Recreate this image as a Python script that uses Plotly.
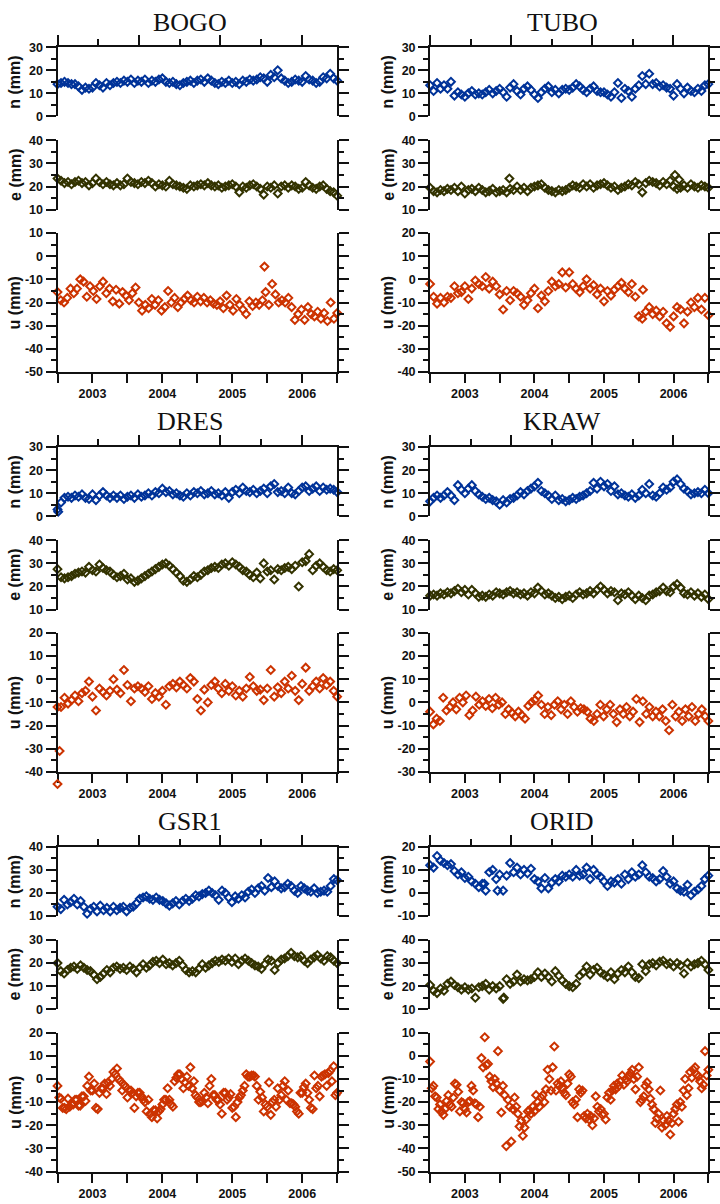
import numpy as np
import plotly.graph_objects as go

# ---------------------------------------------------------------------------
# GPS coordinate time series (mm), 2003.0 - 2007.0, six stations
# Each list is sampled evenly over the time span; *_OUT lists hold (year, mm)
# pairs for isolated points.
# ---------------------------------------------------------------------------
T0, T1 = 2003.0, 2007.0

BOGO_N = [14, 14.5, 15, 14.5, 14, 14, 13, 11.5, 12.5, 12,
          12.5, 14.5, 13.5, 12.5, 14.5, 13.5, 14.5, 15, 14.5, 15.5,
          15, 16, 14.5, 15.5, 15, 16, 14.5, 15.5, 15, 16,
          16.5, 15, 14.5, 15, 14, 13.5, 14.5, 15, 15.5, 14.5,
          15.5, 16, 15, 16.5, 15.5, 14.5, 14, 15, 14.5, 15.5,
          14.5, 15, 14, 15.5, 15, 16, 15.5, 16, 17, 16.5,
          15, 18, 17, 20, 16.5, 15.5, 14.5, 15, 16, 15.5,
          15, 17.5, 16, 15.5, 14.5, 15, 17, 16.5, 18.5, 16.5, 15.5]
BOGO_E = [23.5, 22.5, 21.5, 22, 21, 22, 22.5, 21.5, 22, 20.5,
          21.5, 23.5, 22, 21, 22, 21, 20.5, 21.5, 20.5, 21,
          23.5, 22, 21.5, 21, 22, 21.5, 22.5, 21.5, 20, 21,
          20.5, 20, 22.5, 21, 20.5, 20, 19.5, 19, 20.5, 20,
          20.5, 21, 20.5, 21.5, 20.5, 20, 20.5, 19.5, 20, 20.5,
          21, 20, 17.5, 20, 19.5, 20.5, 21, 20, 19, 16.5,
          20, 19.5, 20.5, 17, 20, 20.5, 19.5, 20.5, 20, 19,
          19.5, 22, 20.5, 19.5, 19, 20, 20.5, 19, 18, 17.5, 16]
BOGO_U = [-15.5, -19, -20, -18, -14, -16, -14, -10, -11, -17.5,
          -13, -15, -18.5, -13, -11, -16, -14, -19.5, -14.5, -20.5,
          -15.5, -17, -19, -16, -13.5, -20, -23.5, -21, -22.5, -18.5,
          -21, -19, -23.5, -22, -15, -20, -18, -22, -20, -18.5,
          -17, -19, -20, -17.5, -19.5, -18, -20, -19, -20.5, -21,
          -19.5, -22.5, -17, -21, -23.5, -18.5, -21, -23, -25, -19.5,
          -21.5, -20, -21, -19, -15.5, -21, -12, -16.5, -20, -19,
          -20, -18, -22, -27.5, -25, -23, -27.5, -22, -25, -26,
          -24, -27, -24.5, -28, -20, -27, -24.5]
BOGO_U_OUT = [(2005.96, -4.5)]

TUBO_N = [13.5, 11, 14.5, 12, 13.5, 12, 15, 9, 10.5, 9.5,
          8.5, 10, 11, 9.5, 10, 9.5, 10.5, 11.5, 10, 11,
          12, 10.5, 8.5, 12.5, 14, 11, 9.5, 12, 13, 11.5,
          9.5, 8, 10.5, 12, 13, 10.5, 11.5, 10, 11.5, 12,
          11.5, 12.5, 14, 13, 11.5, 10.5, 12, 13, 11, 10.5,
          10.5, 9.5, 8.5, 10.5, 14.5, 8, 12, 11, 8.5, 12,
          13.5, 17.5, 14, 18.5, 14, 14.5, 13, 13.5, 12.5, 12,
          9, 14, 12, 10, 12.5, 11, 10.5, 12, 11, 13.5, 14]
TUBO_E = [19.5, 18, 17.5, 18.5, 18, 19, 18.5, 19.5, 18, 20,
          17, 18.5, 19, 18, 19.5, 18.5, 17.5, 18, 19, 17.5,
          18, 18.5, 17.5, 19, 18.5, 20, 18.5, 19.5, 18, 19.5,
          20, 20.5, 21, 19.5, 18.5, 18, 17.5, 18.5, 18, 18.5,
          19.5, 20.5, 20, 19.5, 21, 20, 21, 19.5, 20.5, 21,
          21.5, 20.5, 19.5, 20, 18.5, 19.5, 20, 21, 20.5, 22,
          21, 17.5, 21.5, 22.5, 22, 21.5, 20.5, 22, 21, 22.5,
          20, 19, 19.5, 20.5, 19.5, 21, 20, 19.5, 20.5, 20, 19.5]
TUBO_E_OUT = [(2004.14, 23.5), (2006.52, 25), (2006.58, 23)]
TUBO_U = [-2, -7.5, -10.5, -8, -10, -7.5, -8, -3, -6, -5.5,
          -3, -8.5, -4, -0.5, -2, -3, 1, -4, -1, -3,
          -6.5, -13, -5, -9, -5, -6, -7.5, -11, -9, -6,
          -4, -12.5, -7, -9.5, -5, -1, -3, -2, 3, -3.5,
          3, -2, -4, -5.5, -3, 0, -4, -2.5, -6.5, -4,
          -9.5, -5, -7, -4.5, -3, -1.5, -4, -5.5, -2, -7.5,
          -16, -17, -14, -12, -15, -13.5, -16, -14, -19, -20.5,
          -16, -12, -13, -19, -14, -10, -12, -8, -13, -8, -15.5]
TUBO_U_OUT = [(2006.06, -4.5)]

DRES_N = [3, 6, 8, 8.5, 8, 9, 8.5, 9.5, 8, 7.5,
          9.5, 7, 9, 10.5, 9, 8, 9, 8, 9, 7.5,
          8.5, 9, 8, 9.5, 8.5, 9, 10, 9, 10.5, 10,
          12, 10.5, 11, 9.5, 10, 9, 8.5, 10, 9, 10.5,
          10, 11, 9.5, 10, 11, 9.5, 10, 9, 10.5, 8,
          10.5, 11.5, 10, 12.5, 11, 10.5, 11.5, 10, 11, 12,
          10, 13, 14, 10.5, 11, 10, 12.5, 10, 9.5, 11,
          12.5, 13, 11, 12, 13, 11, 12.5, 11.5, 12, 11.5, 10.5]
DRES_N_OUT = [(2003.01, 2)]
DRES_E = [27.5, 24, 23.5, 24, 24.5, 25.5, 26, 26.5, 26, 28.5,
          27, 26.5, 29.5, 28, 27, 26.5, 25, 24, 24.5, 25.5,
          23, 23.5, 22, 22.5, 23.5, 24.5, 25.5, 26.5, 27.5, 28.5,
          29.5, 30, 29, 27.5, 26, 24.5, 22.5, 22, 23, 24.5,
          24, 25, 26.5, 27, 28, 28.5, 28, 29.5, 30, 29,
          30.5, 29.5, 28.5, 27, 26.5, 25, 24, 26, 23.5, 30,
          26.5, 27, 23, 27.5, 27, 28, 28.5, 27.5, 29, 20,
          30.5, 31, 34, 27, 29, 30, 28.5, 27, 26.5, 27.5, 27]
DRES_U = [-12, -12, -8, -10.5, -9, -7, -9.5, -6, -5, -1,
          -7.5, -13.5, -4, -5.5, -7, -5, 0, -4.5, -6, 4,
          -2.5, -9.5, -4, -3, -4, -5.5, -3, -8.5, -6, -7.5,
          -5, -11, -3, -2, -3.5, -1, -2.5, -4, 0.5, -1,
          -8.5, -13.5, -4.5, -10, -2.5, -1, -4, -6, -2, -5,
          -3, -7, -5, -7.5, -4, 1, -3, -5, -4.5, -9,
          -4, 4, -7.5, -3.5, -6, -1, -4, 1.5, -5, -9,
          -2, 5, -5, -3, -1, -4, 0.5, -2.5, -1, -5, -7.5]
DRES_U_OUT = [(2003.03, -31), (2003.0, -45.2)]

KRAW_N = [6.5, 8, 9, 8, 9, 10.5, 9, 7, 13.5, 11.5,
          10, 12, 13.5, 11, 9.5, 8.5, 7.5, 8, 7, 6.5,
          5, 7, 6, 7.5, 8, 9, 10.5, 9.5, 11, 12,
          13, 14.5, 11, 10, 9, 7.5, 9, 7, 7.5, 6.5,
          7, 8, 7.5, 8.5, 9, 10, 11, 14.5, 12, 15,
          13, 14, 11, 13, 9.5, 10, 9, 8.5, 9.5, 8,
          9, 11.5, 10, 14, 9, 8.5, 10, 12.5, 11.5, 12.5,
          15, 16, 14, 12, 11, 9.5, 10, 10.5, 10, 11.5, 10]
KRAW_E = [16, 16.5, 16, 17, 16.5, 17.5, 17, 18, 19, 17.5,
          18.5, 16.5, 18.5, 17, 15.5, 16, 15.5, 16.5, 16, 17.5,
          17, 16.5, 17.5, 18, 17, 17.5, 16.5, 17, 16, 17.5,
          17, 19.5, 18, 16.5, 17, 16, 15, 15.5, 14.5, 15.5,
          16, 15, 16.5, 17.5, 16.5, 17, 18, 17, 18.5, 20,
          18.5, 17, 18, 17.5, 14, 17, 16.5, 17.5, 16, 14.5,
          16, 15, 14, 16, 16.5, 17.5, 18, 19.5, 18, 17.5,
          20, 21, 19.5, 17, 16.5, 17.5, 16, 17, 15.5, 16.5, 14.5]
KRAW_U = [-4, -9.5, -7, -8, 2, -3.5, -2, 0, -3, 2,
          0, 3, -5.5, -3.5, 2.5, -1, 0.5, -1.5, 1.5, -2.5,
          2, -1, 0, -5, -3, -4.5, -6, -4, -5.5, -7,
          -1.5, 0, 1, 3, -1, -5, -2, -5.5, -1, 0.5,
          -3, -1, -5, 0.5, -2, -4, -2.5, -3, -4, -7,
          -8, -5, -1, -6, -3, -1, -5, -8.5, -3, -5,
          -2, -6, -4, 1.5, -8.5, 0.5, -5, -2, -6, -4,
          -6, -3, -8, -12, -1, -6, -4, -8, -3, -6,
          -2, -8, -5, -3, -6, -8]

GSR1_N = [14, 13, 17, 15, 16, 17.5, 15, 16.5, 14, 11,
          13, 14, 12, 14.5, 12.5, 13.5, 12, 14, 12.5, 13.5,
          14, 12, 13.5, 14, 15.5, 17.5, 18, 18.5, 17.5, 17,
          18, 17, 16.5, 15.5, 14.5, 15.5, 16.5, 15, 16.5, 17.5,
          16.5, 17.5, 19, 18.5, 19.5, 20, 21, 20, 19, 17,
          21, 20, 18, 16, 18.5, 17.5, 19, 18, 20.5, 21.5,
          20, 22, 23, 21, 26.5, 22.5, 25, 23, 22, 22.5,
          24, 23, 21, 20, 23, 22, 21, 20.5, 22, 20,
          20.5, 21, 20.5, 23, 26, 25.5]
GSR1_E = [20, 16.5, 15.5, 17, 18, 18.5, 17.5, 19, 18, 17,
          16.5, 15, 13, 14, 15.5, 17, 16, 18, 18.5, 17.5,
          18, 17, 18.5, 17.5, 16, 18, 19.5, 18, 19, 20.5,
          21, 20, 21.5, 19.5, 20, 19, 20, 21, 19, 17,
          16, 16.5, 16, 17.5, 19.5, 18, 19, 20, 21, 20.5,
          21.5, 21, 22, 20.5, 22, 19.5, 21, 22, 21, 20,
          19, 18.5, 17.5, 19.5, 21.5, 21, 17, 20, 21.5, 22,
          23, 24.5, 23, 22.5, 23, 21, 20, 21.5, 22.5, 23.5,
          22, 21, 23, 22.5, 21, 20]
GSR1_U = [-3, -8.5, -12.5, -8.5, -11, -9, -11.5, -7.5, -9.5, 1,
          -5, -12.5, -6, -4, -6.5, -3, 3, 4.5, -1, -2.5,
          -8, -5, -12.5, -6, -7.5, -10, -9, -16.5, -13.5, -14,
          -11, -9, -9, -12, 0.5, 2, -4, 1, 5, -1,
          -8, -10, -6, -10.5, 0, -7, -9, -15, -6, -8,
          -12.5, -16.5, -8, -5, 2, 1, 1.5, -3, -5.5, -14,
          -12, -15.5, -9, -4, -7, -1, -5, -10.5, -12, -15,
          -6, -2, -9, -13, -4, -7.5, 1.5, -3, 3.5, 5.5, -6]
# second set of GSR1 up solutions, half a step later
GSR1_U_MID = [-8, -12.5, -13, -12, -11, -9, -11.5, -7.5, -3, -5,
              -2, -13, -4, -2, -1.5, 0, 2, 0, -5, -3.5,
              -5, -6, -7.5, -6, -9, -14, -15, -13.5, -17, -13,
              -9, -4, -11, -1, 2, 0, -1.5, -3, -4, -7,
              -10, -9.5, -8, -3, -7, -9, -11, -6, -9, -6.5,
              -12, -10, -7, -3, 1, 1.5, 1, -9, -8, -11,
              -1.5, -10, -12, -9, -3, -9, -10.5, -11, -14, -6,
              -3.5, -6, -12.5, 1.5, -3, 1, 2, 2.5, -1, -7]

ORID_N = [12, 11, 16, 14, 13, 12, 12.5, 9.5, 8, 9,
          6.5, 7, 5, 4, 2.5, 4, 1, 9, 10, 6,
          8, 1, 7.5, 13, 9, 11, 8, 10, 8.5, 10.5,
          6, 5, 2, 6.5, 2, 4.5, 6, 5, 7.5, 7,
          8, 7, 10, 7.5, 8, 11, 6, 10, 8, 7,
          5, 3, 5, 4.5, 6, 4, 8, 6, 9, 7,
          8, 12, 9, 7, 6.5, 5, 6, 9.5, 7, 4,
          5, 2, 1, 0.5, 3.5, -1, 0.5, 1.5, 3, 6, 7.5]
ORID_N_OUT = [(2003.97, 1), (2003.78, 4)]
ORID_E = [20.5, 18, 17, 19, 18, 21, 22, 20.5, 19.5, 18.5,
          19.5, 18.5, 19, 15, 19.5, 20, 21, 18.5, 20, 19,
          20, 14.5, 23, 21, 22, 25, 22, 23, 22.5, 23,
          24, 26, 24, 25.5, 24, 22, 26.5, 24.5, 22.5, 21,
          20, 19.5, 21, 24.5, 26, 28.5, 25, 27, 28, 26,
          25, 24, 26, 23, 25.5, 27, 26, 28.5, 26, 24,
          23.5, 29.5, 26.5, 29.5, 30, 29, 30.5, 31, 29.5, 30,
          28.5, 30, 29, 25.5, 30, 28.5, 29.5, 30, 31, 29.5, 27]
ORID_E_OUT = [(2004.06, 15)]
ORID_U = [-2.5, -14, -13, -17.5, -18, -23, -21, -24, -25.5, -23,
          -19.5, -17, -21, -22, -18, -12, -12.5, -15.5, -24, -20,
          -20.5, -23, -24.5, -20, -19.5, -13, -15, -20.5, -21, -26.5,
          -22, -1, -5, 8, -4, -3.5, -9, -11, -13.5, -10,
          -12, 2, -15, -24.5, -13, -17, -39, -19, -22, -37,
          -23, -18, -22, -25, -30.5, -28, -34.5, -31, -27.5, -24,
          -23.5, -25, -22, -24, -17, -20, -22, -18, -17, -20,
          -14.5, -6, -10, -15, -5, 4, -15, -12, -13, -11,
          -14, -16, -17, -12, -8, -9, -20, -21, -19, -26.5,
          -14.5, -16, -15, -26, -27, -25, -27.5, -26, -30, -27,
          -17.5, -22, -24, -23, -25.5, -25, -27.5, -18, -16, -19,
          -15, -13, -14.5, -12, -13, -11, -8.5, -12.5, -10, -11,
          -9, -7.5, -6, -10, -14.5, -9, -5, -20, -19, -17.5,
          -13, -11.5, -14.5, -18.5, -21, -23, -29, -27, -25, -15,
          -31, -28, -30, -26, -28, -34, -29, -25, -23, -21,
          -28.5, -20, -22, -15, -10, -17, -14, -7, -9.5, -6,
          -5, -8, -9, -11, -14, -12.5, 2, -8.5, -6]

# y-axis ranges (mm) for the n, e and u panels of each station
RANGES = {
    "BOGO": ((0, 30), (10, 40), (-50, 10)),
    "TUBO": ((0, 30), (10, 40), (-40, 20)),
    "DRES": ((0, 30), (10, 40), (-40, 20)),
    "KRAW": ((0, 30), (10, 40), (-30, 30)),
    "GSR1": ((10, 40), (0, 30), (-40, 20)),
    "ORID": ((-10, 20), (10, 40), (-50, 10)),
}

# x ticks: year boundaries / mid-year labels below, and the upper scale ticks
YEAR_LABELS = ["2003", "2004", "2005", "2006"]
TOP_MAJOR = [2003.0, 2004.165, 2005.33, 2006.495]
TOP_MINOR = [2003.5825, 2004.7475, 2005.9125]

STATIONS = [
    ("BOGO", 0, 0, [(BOGO_N, []), (BOGO_E, []), (BOGO_U, BOGO_U_OUT)], None),
    ("TUBO", 1, 0, [(TUBO_N, []), (TUBO_E, TUBO_E_OUT), (TUBO_U, TUBO_U_OUT)], None),
    ("DRES", 0, 1, [(DRES_N, DRES_N_OUT), (DRES_E, []), (DRES_U, DRES_U_OUT)], None),
    ("KRAW", 1, 1, [(KRAW_N, []), (KRAW_E, []), (KRAW_U, [])], None),
    ("GSR1", 0, 2, [(GSR1_N, []), (GSR1_E, []), (GSR1_U, [])], GSR1_U_MID),
    ("ORID", 1, 2, [(ORID_N, ORID_N_OUT), (ORID_E, ORID_E_OUT), (ORID_U, [])], None),
]

# ---------------------------------------------------------------------------
# page geometry (pixels)
# ---------------------------------------------------------------------------
W, H = 720, 1204
COL_X = [(58.0, 340.0), (433.7, 714.3)]
ROW_TOP = [40.7, 445.3, 849.7]
PANEL_OFF = [(0.0, 70.0), (94.3, 164.3), (188.0, 328.6)]
TITLE_Y = [15.5, 419.7, 824.0]
TITLE_X = [192.0, 567.0]
YLABEL_X = [15.0, 391.0]
OVERHANG = 30.0  # room below a panel for points past the axis

COLORS = ["#003399", "#333300", "#cc3300"]
COMP_NAMES = ["n (mm)", "e (mm)", "u (mm)"]
AXIS_COLOR = "#111111"
TICK_FONT = dict(family="Liberation Sans, Arial, sans-serif", size=12.5,
                 color="#111111", weight="bold")


def fx(p):
    return p / W


def fy(p):
    return 1 - p / H


def dash_label(v):
    return ("-" + str(abs(int(v)))) if v < 0 else str(int(v))


fig = go.Figure()
layout = dict(width=W, height=H, margin=dict(l=0, r=0, t=0, b=0),
              paper_bgcolor="white", plot_bgcolor="rgba(0,0,0,0)", showlegend=False)
annotations = []

marker_style = dict(symbol="diamond-open", size=6, line=dict(width=2))


def add_points(x, y, xn, yn, color):
    fig.add_trace(go.Scatter(x=x, y=y, mode="markers", xaxis=xn, yaxis=yn,
                             cliponaxis=False,
                             marker=dict(color=color, **marker_style),
                             hoverinfo="skip"))


k = 0
n_axes = 6 * 3
for name, col, row, comps, u_mid in STATIONS:
    x0, x1 = COL_X[col]
    annotations.append(dict(
        text=name, x=fx(TITLE_X[col]), y=fy(TITLE_Y[row]), xref="paper", yref="paper",
        xanchor="center", yanchor="middle", showarrow=False,
        font=dict(family="Liberation Serif, Times New Roman, serif", size=26, color="#111111")))
    for c, (vals, outs) in enumerate(comps):
        k += 1
        xn = "x" if k == 1 else f"x{k}"
        yn = "y" if k == 1 else f"y{k}"
        xa = "xaxis" if k == 1 else f"xaxis{k}"
        ya = "yaxis" if k == 1 else f"yaxis{k}"
        top = ROW_TOP[row] + PANEL_OFF[c][0]
        bot = ROW_TOP[row] + PANEL_OFF[c][1]
        lo, hi = RANGES[name][c]

        tv = list(range(lo, hi + 1, 10))
        layout[ya] = dict(
            domain=[fy(bot), fy(top)], range=[lo, hi], anchor=xn,
            tickmode="array", tickvals=tv, ticktext=[dash_label(v) for v in tv],
            ticks="outside", ticklen=10, tickwidth=2, tickcolor=AXIS_COLOR,
            showline=True, linewidth=2, linecolor=AXIS_COLOR, mirror="ticks",
            showgrid=False, zeroline=False, tickfont=TICK_FONT,
            minor=dict(ticks="outside", tickmode="linear", tick0=lo, dtick=5,
                       ticklen=5, tickwidth=2, tickcolor=AXIS_COLOR, showgrid=False),
        )
        base_x = dict(domain=[fx(x0), fx(x1)], range=[T0, T1], anchor=yn,
                      showgrid=False, zeroline=False)
        if c == 0:
            base_x.update(side="top", showline=True, linewidth=2, linecolor=AXIS_COLOR,
                          ticks="outside", tickmode="array", tickvals=TOP_MAJOR,
                          ticklen=10, tickwidth=2, tickcolor=AXIS_COLOR,
                          showticklabels=False,
                          minor=dict(ticks="outside", tickmode="array", tickvals=TOP_MINOR,
                                     ticklen=6, tickwidth=2, tickcolor=AXIS_COLOR,
                                     showgrid=False))
        elif c == 1:
            base_x.update(visible=False)
        else:
            bt = [T0 + 0.5 * i for i in range(9)]
            btxt = ["" if i % 2 == 0 else YEAR_LABELS[i // 2] for i in range(9)]
            base_x.update(side="bottom", showline=True, linewidth=2, linecolor=AXIS_COLOR,
                          ticks="outside", tickmode="array", tickvals=bt, ticktext=btxt,
                          ticklen=9, tickwidth=2, tickcolor=AXIS_COLOR, tickfont=TICK_FONT)
        layout[xa] = base_x

        t = np.linspace(T0, T1, len(vals))
        add_points(t, vals, xn, yn, COLORS[c])
        if c == 2 and u_mid is not None:
            tm = np.linspace(T0 + 0.025, T1 - 0.025, len(u_mid))
            add_points(tm, u_mid, xn, yn, COLORS[c])

        inside = [p for p in outs if lo <= p[1] <= hi]
        below = [p for p in outs if p[1] < lo]
        if inside:
            add_points([p[0] for p in inside], [p[1] for p in inside], xn, yn, COLORS[c])
        if below:
            # invisible companion axes on the same scale, extended downwards
            n_axes += 1
            xe, ye = f"x{n_axes}", f"y{n_axes}"
            per_mm = (bot - top) / (hi - lo)
            layout[f"xaxis{n_axes}"] = dict(domain=[fx(x0), fx(x1)], range=[T0, T1],
                                            anchor=ye, visible=False)
            layout[f"yaxis{n_axes}"] = dict(domain=[fy(bot + OVERHANG), fy(top)],
                                            range=[lo - OVERHANG / per_mm, hi],
                                            anchor=xe, visible=False)
            add_points([p[0] for p in below], [p[1] for p in below], xe, ye, COLORS[c])

        annotations.append(dict(
            text=COMP_NAMES[c], x=fx(YLABEL_X[col]), y=fy((top + bot) / 2),
            xref="paper", yref="paper", xanchor="center", yanchor="middle",
            textangle=-90, showarrow=False,
            font=dict(family="Liberation Sans, Arial, sans-serif", size=16,
                      color="#111111", weight="bold")))

layout["annotations"] = annotations
fig.update_layout(**layout)
fig.write_html("out.html", config={"displayModeBar": False})
